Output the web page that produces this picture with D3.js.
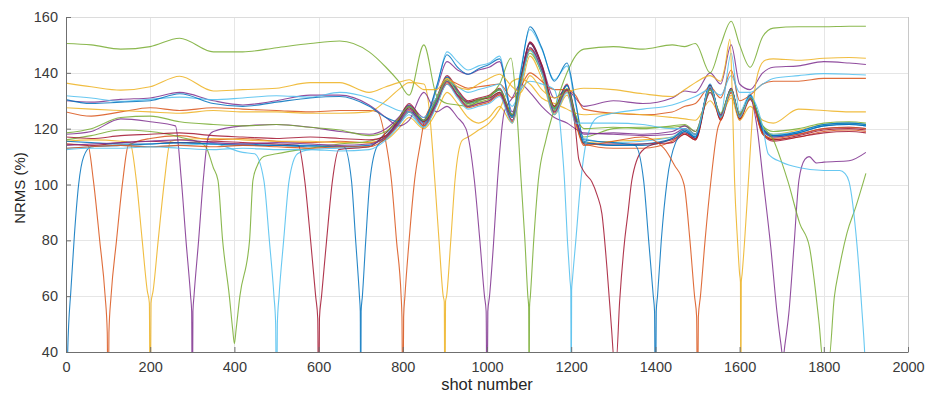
<!DOCTYPE html>
<html>
<head>
<meta charset="utf-8">
<script src="https://cdn.jsdelivr.net/npm/d3@7"></script>
<style>
  body { margin: 0; background: #fff; }
  text { font-family: "Liberation Sans", Arial, sans-serif; }
</style>
</head>
<body>
<svg id="chart" width="928" height="396"></svg>
<script>
const keyShots = [0, 60, 130, 200, 270, 350, 420, 500, 580, 650, 720,
  760, 790, 815, 850, 880, 905, 930, 955, 980, 1005, 1030, 1060, 1080, 1102, 1130, 1160, 1190, 1210, 1230,
  1300, 1370, 1440, 1470, 1495, 1530, 1555, 1580, 1600, 1625, 1655, 1680,
  1740, 1800, 1860, 1900];

// reference shot of each trace (where NRMS falls off)
const refShots = [0, 100, 200, 300, 400, 500, 600, 700, 800, 900, 1000,
  1100, 1200, 1300, 1400, 1500, 1600, 1700, 1800, 1900];

const lineColors = ['#0072BD', '#D95319', '#EDB120', '#7E2F8E', '#77AC30', '#4DBEEE', '#A2142F'];

const xTicks = [0, 200, 400, 600, 800, 1000, 1200, 1400, 1600, 1800, 2000];
const yTicks = [40, 60, 80, 100, 120, 140, 160];

// NRMS (%) at keyShots, one row per trace (null = inside the dip)
const keyNrms = [
  [null,113.5,114,114.5,115,114.5,114,114,113.5,113.5,114,
   117.5,123,128.5,122.5,130.5,138.5,133.5,129.5,130.5,131.5,134,124.5,137.5,150.5,142.5,127.5,135.5,124.5,115.5,
   114,114.5,116.5,119,116.5,135.5,124,134,124,132,119,117, 118.5,121,121.5,121],
  [114.5,null,null,116.5,117.5,116,116.5,115.5,115,115.5,115,
   117,121.5,126.5,121,128.5,137,132,128,129,130,132.5,123,136,149,141,126,134,123,114.5,
   113,113,115.5,118,116,134,123,133,123,130.5,118.5,116, 117,119,119.5,119],
  [115.5,116,115.5,null,116,116.5,116,115.5,115.5,115,115,
   116,120,124,120,126,133,129,124,122,124,128,122,133,146,138,125,132,122,115,
   115.5,116,117,119.5,118,133,124.5,132,125,131,120,118, 119.5,121.5,122,121.5],
  [118,119,123.5,122.5,null,119,121,121.5,120.5,119,118,
   120,124,128.5,124,134,144,141,139.5,141,142,144,126,138,151,143,131,134,131,128,
   130,129,131,133.5,133,140,136,150,136,134,140,142, 142.5,144,143.5,143],
  [116,117.5,119.5,119,117,null,null,111,113,114.5,115.5,
   117.5,122.5,127.5,122.5,130,137,132,128.5,129.5,130.5,133,124,136,148,140,126.5,134,124,117,
   120,120.5,120.5,121,118,134,125,133.5,125.5,131,121,119, 120,122,122.5,122],
  [113,113.5,114,113.5,114,114.5,111.5,null,112.5,113,113.5,
   118.5,121.5,125,120.5,134,147.5,144,141,142.5,143.5,146,125,141,155.5,148.5,137.5,142.5,129,116.5,
   115,115.5,117,119.5,117.5,135,125,147,126,132.5,120,118, 119,121.5,122,121.5],
  [114.5,114,115,115.5,115,115.5,115,114.5,null,null,113.5,
   118.5,123.5,129,123,131,139,134,130,131,132,134.5,125,138,151,143,128,136,125,114.5,
   114.5,114.5,116,118.5,116.5,135.5,123.5,134.5,123.5,131.5,118.5,116, 117.5,119.5,120,119.5],
  [115.5,115,114.5,114.5,115,114.5,114.5,114,114,113.5,null,
   116.5,122.5,128,122,130,138.5,133,129,130,131.5,134,124,137.5,150.5,142,127,135.5,124,115,
   114,114,116.5,119.5,117,136,124,134,124.5,131.5,119.5,117.5, 119,121.5,122,121.5],
  [126,124.5,126,127.5,126.5,127.5,127,126.5,126,126.5,126.5,
   null,null,null,122,131,137.5,136,134.5,135,135.5,136,131,135,140,137,134,134,132,127,
   125.5,125,126,128,129,135,131,141,130,132,136,137, 137,138,138,138],
  [127.5,127,126.5,126,125.5,126.5,126,126,125.5,125.5,126,
   130,134,136.5,136,null,null,null,117,119.5,122,127,137,138,136,131,129,127,125.5,125,
   125.5,125,124,123.5,123,130,125,131,123,128,123,122, 127,126.5,126,126],
  [130,129.5,130.5,131,133,130,128.5,130,132,132,128.5,
   124,121,123,133,126,128,124,null,null,null,null,131,136,133,128,124,122,120,118.5,
   118,117.5,118,120,118,133,125,133,125,130.5,120,117, 118,120,120.5,120],
  [150.5,150,148.5,149.4,152.4,147.5,147.5,149,150.5,151.4,147.5,
   142,137,132,150,132,129,128.5,128,130,131.5,136,null,null,null,null,null,140,146,148.5,
   149.4,148.5,150,149.4,150.5,140,150,158.5,150,142,153,156, 156.5,156.5,156.7,156.7],
  [131.8,131,129.8,130.5,131.3,130.4,131,131.8,131.3,133,131,
   128.5,126.5,126,124,131,137,135,133,134,135,136,128,134,137,136,134,null,null,null,
   125.5,127,128.5,130,131.5,134,132,139,133,133,136,138, 139,139.7,139.5,139.2],
  [117,116.5,117.5,118,118.5,117.5,117,116.5,117,116.5,116,
   117.5,123,127.5,122.5,129,136,132,129.5,130.5,131,133,125,137.5,150.5,142.5,128,134,120,null,
   null,null,115,118,116,134.5,123,134,123.5,131,118,115.5, 117,118.5,119,118.5],
  [130.4,129,129.5,130,132.5,129,128,129.5,131,131.5,128,
   124,122.5,126,123,135,146.5,142,139.5,141.5,143,145,124.5,140,156.5,149,137,143.5,130,116,
   115,null,null,119,117,135,124.5,134.5,124,132,120,117.5, 118.5,121,121.5,121],
  [113,113.5,114,113.5,114,113.5,114,113.5,113,113.5,113.5,
   116.5,121.5,126,121,128.5,136.5,131.5,127.5,128.5,129.5,132,122.5,135.5,148.5,140.5,125.5,133.5,122.5,114,
   115.5,117,null,null,null,null,123,133,124,131,118,116.5, 118,120,120.5,120],
  [136.3,135,133.8,135,138.8,133.5,134,134.5,136.5,136.5,133,
   135,136.5,137.5,134,134,138,135,134,136,138,139.5,135,133,139,134,131,133,134,134.5,
   134,132.5,131.5,134,136.5,139,137,null,null,null,null,145, 144.5,145.2,145.5,145.2],
  [114,114.5,115,115.5,116,115,114.5,115,114.5,114,114.5,
   117,122,127,121.5,129,137,132,128,129,130,132.5,123,136,149,141,126,134,123,118,
   118.5,118,119,121,119,134.5,125,134.5,125,131,null,null, null,108,108.5,111.5],
  [118.5,120,124,124.5,122.5,121.5,121,121.5,120.5,119.5,117.5,
   119,123.5,128,123,130.5,137.5,133,129,130.5,131.5,134,125,137,147,140,127.5,134.5,125,120,
   120.5,120,121,121.5,119,134,125.5,134,125,131,121,null, null,null,null,null],
  [112.5,113,113,113.5,113,112.5,113,112.5,112.5,112,112.5,
   116,121,126,120.5,128,136,131,127,128,129,131.5,122,135,148,140,125,133,122,122,
   122,121.5,120,120,118,135,124,133.5,124,131.5,120.6,null, null,null,null,null]
];

// [shot, NRMS] around each trace's own reference shot
const dipNrms = [
  [[0,10],[4,40],[12,63],[20,82],[30,100],[42,110]],
  [[52,114],[65,101.5],[80,80],[93,60],[98,47],[100,10],[102,47],[107,60],[120,80],[135,101.5],[148,114]],
  [[152,115],[167,101.5],[181,80],[193,62],[198,57.5],[200,10],[202,57.5],[207,62],[219,80],[234,101.5],[248,115.5]],
  [[260,121],[274,101.5],[285,80],[296,60],[298.5,54.5],[300,10],[301.5,54.5],[304,60],[315,80],[326,101.5],[338,117]],
  [[330,114],[350,106],[361,101.5],[372,80],[388,60],[396,48],[400,43],[404,48],[413,60],[436,80],[444,101.5],[455,107],[470,110]],
  [[448,111],[470,101.5],[483,80],[494,60],[498,50],[500,10],[502,50],[506,60],[517,80],[530,101.5],[550,111]],
  [[552,114],[567,101.5],[581,80],[593,60],[598,52],[600,10],[602,52],[607,60],[619,80],[633,101.5],[648,112.5]],
  [[660,113.5],[678,101.5],[688,80],[697,60],[699,54.5],[700,10],[701,54.5],[704,60],[712,80],[722,101.5],[740,114]],
  [[740,126],[760,115],[773,101.5],[785,80],[796,60],[798,52.5],[800,10],[802,52.5],[805,60],[815,80],[828,101.5],[842,115]],
  [[862,128],[876,101.5],[886,80],[896,60],[898.5,58],[900,10],[901.5,58],[904,60],[914,80],[924,101.5],[941,115.8]],
  [[950,120],[970,101.5],[983,80],[994,60],[998,54.5],[1000,10],[1002,54.5],[1006,60],[1016,80],[1025,101.5],[1041,126]],
  [[1057,145.3],[1070,128],[1081,101.5],[1090,80],[1097,60],[1099,56],[1100,10],[1101,56],[1103,60],[1111,80],[1122,101.5],[1140,116],[1160,127]],
  [[1165,132],[1178,114],[1184,101.5],[1191,80],[1197,66],[1199,62],[1200,10],[1201,62],[1203,66],[1211,80],[1223,101.5],[1240,118],[1262,124]],
  [[1218,109],[1233,104],[1249,101],[1262,96],[1273,89.5],[1285,70],[1296,48],[1302,37],[1307,37],[1315,58],[1327,80],[1335,90],[1344,101.5],[1368,112],[1400,114.5]],
  [[1352,114],[1372,101.5],[1384,80],[1395,60],[1398,54.5],[1400,10],[1402,54.5],[1405,60],[1414,80],[1428,101.5],[1448,115]],
  [[1420,113],[1445,107],[1468,100],[1482,80],[1493,60],[1498,52.5],[1500,10],[1502,52.5],[1507,60],[1518,80],[1532,101.5],[1548,120]],
  [[1565,142],[1577,152],[1583,130],[1588,101.5],[1595,80],[1600,68],[1602,65],[1603,10],[1604,65],[1606,68],[1612,80],[1621,101.5],[1634,131],[1648,142],[1662,144.6]],
  [[1640,122],[1656,101.5],[1674,77.6],[1689,54],[1698,43],[1703,38],[1708,43],[1717,54],[1729,77.6],[1741,101.6],[1755,109],[1765,110],[1783,107.7]],
  [[1680,116],[1700,108],[1715,101],[1743,86],[1766,77.6],[1777,66],[1789,50],[1798,37],[1812,37],[1825,59.7],[1836,69.4],[1855,82.6],[1876,92],[1900,104]],
  [[1668,111],[1700,108],[1743,106],[1800,105],[1838,105],[1850,104],[1860,101],[1879,78],[1891,54],[1897,40],[1900,30]]
];

const plot = { left: 66, right: 908, top: 17, bottom: 352 };
const svg = d3.select('#chart');

const x = d3.scaleLinear().domain([0, 2000]).range([plot.left, plot.right]);
const y = d3.scaleLinear().domain([40, 160]).range([plot.bottom, plot.top]);

// grid
const grid = svg.append('g').attr('shape-rendering', 'crispEdges');
grid.selectAll('line.gx').data(xTicks).enter().append('line')
  .attr('x1', d => Math.round(x(d)) + 0.5).attr('x2', d => Math.round(x(d)) + 0.5)
  .attr('y1', plot.top).attr('y2', plot.bottom)
  .attr('stroke', '#e6e6e6');
grid.selectAll('line.gy').data(yTicks).enter().append('line')
  .attr('x1', plot.left).attr('x2', plot.right)
  .attr('y1', d => Math.round(y(d)) + 0.5).attr('y2', d => Math.round(y(d)) + 0.5)
  .attr('stroke', '#e6e6e6');

svg.append('clipPath').attr('id', 'plotClip')
  .append('rect')
  .attr('x', plot.left).attr('y', plot.top)
  .attr('width', plot.right - plot.left).attr('height', plot.bottom - plot.top);

// merge the read points of each trace with its dip points
const traces = keyNrms.map((row, i) => {
  if (row.length !== keyShots.length) throw new Error('row ' + i + ' has ' + row.length);
  const dip = dipNrms[i];
  const lo = dip[0][0], hi = dip[dip.length - 1][0];
  const pts = keyShots.map((s, j) => [s, row[j]])
    .filter(p => p[1] !== null && (p[0] < lo || p[0] > hi))
    .concat(dip);
  pts.sort((a, b) => a[0] - b[0]);
  return { ref: refShots[i], color: lineColors[i % lineColors.length], pts: pts };
});

const line = d3.line()
  .x(d => x(d[0]))
  .y(d => y(d[1]))
  .curve(d3.curveMonotoneX);

svg.append('g').attr('clip-path', 'url(#plotClip)')
  .selectAll('path').data(traces).enter().append('path')
  .attr('d', d => line(d.pts))
  .attr('fill', 'none')
  .attr('stroke', d => d.color)
  .attr('stroke-width', 1.1)
  .attr('stroke-opacity', 0.85)
  .attr('stroke-linejoin', 'round');

// box lines on top/right
svg.append('line').attr('x1', plot.left).attr('x2', plot.right)
  .attr('y1', plot.top + 0.5).attr('y2', plot.top + 0.5).attr('stroke', '#dcdcdc');
svg.append('line').attr('x1', plot.right + 0.5).attr('x2', plot.right + 0.5)
  .attr('y1', plot.top).attr('y2', plot.bottom).attr('stroke', '#c8c8c8');

// axes
const axisColor = '#6f6f6f';
const gx = svg.append('g').attr('transform', `translate(0,${plot.bottom})`)
  .call(d3.axisBottom(x).tickValues(xTicks).tickFormat(d3.format('d'))
    .tickSize(-5).tickSizeOuter(0).tickPadding(10));
const gy = svg.append('g').attr('transform', `translate(${plot.left},0)`)
  .call(d3.axisLeft(y).tickValues(yTicks).tickFormat(d3.format('d'))
    .tickSize(-5).tickSizeOuter(0).tickPadding(8));

[gx, gy].forEach(g => {
  g.select('.domain').attr('stroke', axisColor);
  g.selectAll('.tick line').attr('stroke', axisColor);
  g.selectAll('.tick text')
    .attr('fill', '#3a3a3a')
    .style('font-size', '14.5px')
    .style('font-family', '"Liberation Sans", Arial, sans-serif');
});

svg.append('text')
  .attr('x', (plot.left + plot.right) / 2)
  .attr('y', 390)
  .attr('text-anchor', 'middle')
  .attr('fill', '#262626')
  .style('font-size', '16.5px')
  .text('shot number');

svg.append('text')
  .attr('transform', 'translate(25,188) rotate(-90)')
  .attr('text-anchor', 'middle')
  .attr('fill', '#262626')
  .style('font-size', '15px')
  .text('NRMS (%)');
</script>
</body>
</html>
